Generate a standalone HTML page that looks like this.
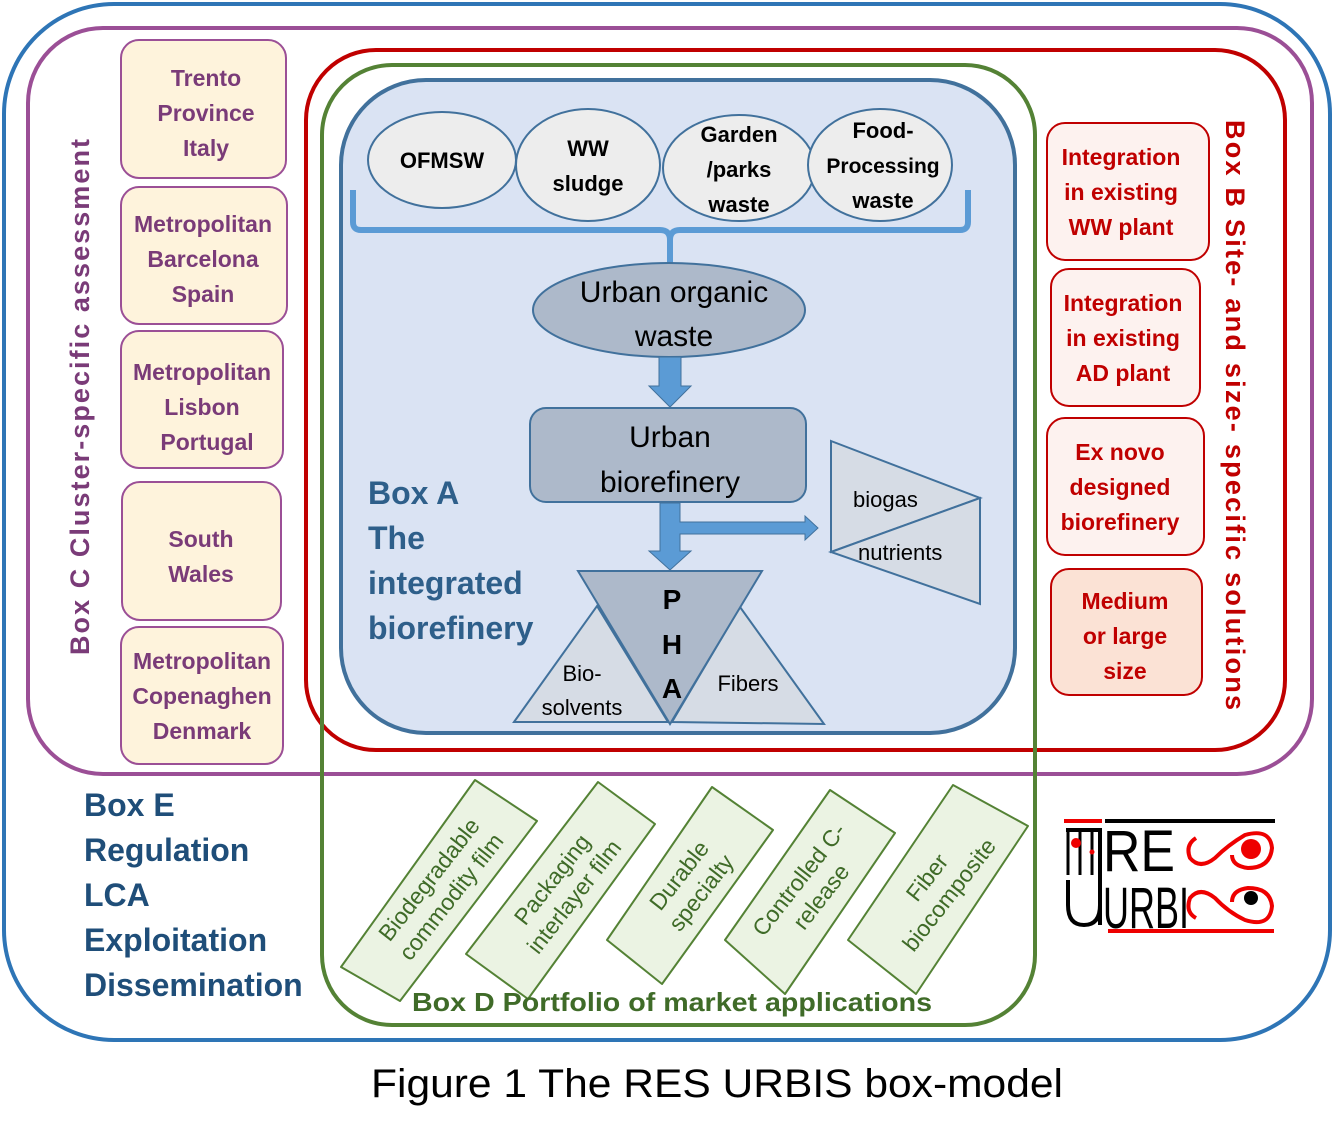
<!DOCTYPE html>
<html><head><meta charset="utf-8"><style>
html,body{margin:0;padding:0;background:#fff;}
svg{display:block;font-family:"Liberation Sans",sans-serif;}
</style></head><body>
<svg width="1334" height="1142" viewBox="0 0 1334 1142">
<rect x="4" y="4" width="1326" height="1036" rx="110" fill="#fff" stroke="#2e75b6" stroke-width="4"/>
<rect x="28" y="28" width="1284" height="746" rx="75" fill="none" stroke="#9b4f96" stroke-width="4"/>
<rect x="306" y="50" width="979" height="700" rx="70" fill="none" stroke="#c00000" stroke-width="4"/>
<rect x="322" y="65" width="713" height="960" rx="70" fill="none" stroke="#548235" stroke-width="4"/>
<rect x="341" y="80" width="674" height="653" rx="85" fill="#dae3f3" stroke="#41719c" stroke-width="4"/>

<g fill="#ededed" stroke="#41719c" stroke-width="2" >
<ellipse cx="442" cy="160" rx="74" ry="48"/>
<ellipse cx="588" cy="165" rx="72" ry="56"/>
<ellipse cx="739" cy="168" rx="76" ry="53"/>
<ellipse cx="880" cy="165" rx="72" ry="56"/>
</g>
<g font-weight="bold" font-size="22" text-anchor="middle" fill="#000">
<text x="442" y="168">OFMSW</text>
<text x="588" y="156">WW</text><text x="588" y="191">sludge</text>
<text x="739" y="142">Garden</text><text x="739" y="177">/parks</text><text x="739" y="212">waste</text>
<text x="883" y="138">Food-</text><text x="883" y="173" font-size="21">Processing</text><text x="883" y="208">waste</text>
</g>
<path d="M353 190 V222 Q353 230 361 230 H660 Q670 230 670 240 V265 M670 240 Q670 230 680 230 H960 Q968 230 968 222 V190" fill="none" stroke="#5b9bd5" stroke-width="6"/>
<ellipse cx="669" cy="310" rx="136" ry="47" fill="#adb9ca" stroke="#41719c" stroke-width="2"/>
<text x="674" y="302" font-size="30" text-anchor="middle">Urban organic</text>
<text x="674" y="346" font-size="30" text-anchor="middle">waste</text>
<path d="M659 357 H681 V386 H691 L670 407 L649 386 H659 Z" fill="#5b9bd5" stroke="#41719c" stroke-width="1"/>
<rect x="530" y="408" width="276" height="94" rx="16" fill="#adb9ca" stroke="#41719c" stroke-width="2"/>
<text x="670" y="447" font-size="30" text-anchor="middle">Urban</text>
<text x="670" y="492" font-size="30" text-anchor="middle">biorefinery</text>
<path d="M660 503 H680 V522 H805 V516 L818 528 L805 540 V534 H680 V551 H691 L670 570 L649 551 H660 Z" fill="#5b9bd5" stroke="#41719c" stroke-width="1"/>
<polygon points="831,441 980,498 831,552" fill="#d6dce5" stroke="#41719c" stroke-width="2"/>
<polygon points="831,552 980,498 980,604" fill="#d6dce5" stroke="#41719c" stroke-width="2"/>
<text x="853" y="507" font-size="22">biogas</text>
<text x="858" y="560" font-size="22">nutrients</text>
<polygon points="514,722 597,606 668,722" fill="#d6dce5" stroke="#41719c" stroke-width="2"/>
<polygon points="672,722 740,607 824,724" fill="#d6dce5" stroke="#41719c" stroke-width="2"/>
<polygon points="578,571 762,571 670,724" fill="#adb9ca" stroke="#41719c" stroke-width="2"/>
<g font-weight="bold" font-size="28" text-anchor="middle">
<text x="672" y="609">P</text><text x="672" y="654">H</text><text x="672" y="698">A</text></g>
<text x="582" y="681" font-size="22" text-anchor="middle">Bio-</text>
<text x="582" y="715" font-size="22" text-anchor="middle">solvents</text>
<text x="748" y="691" font-size="22" text-anchor="middle">Fibers</text>
<g font-weight="bold" font-size="32" fill="#2e5f8a">
<text x="368" y="504">Box A</text><text x="368" y="549">The</text>
<text x="368" y="594">integrated</text><text x="368" y="639">biorefinery</text></g>

<g fill="#fef3dc" stroke="#9b4f96" stroke-width="2">
<rect x="121" y="40" width="165" height="138" rx="18"/>
<rect x="121" y="187" width="166" height="137" rx="18"/>
<rect x="121" y="331" width="162" height="137" rx="18"/>
<rect x="122" y="482" width="159" height="138" rx="18"/>
<rect x="121" y="627" width="162" height="137" rx="18"/>
</g>
<g font-weight="bold" font-size="23" fill="#7a3b78" text-anchor="middle">
<text x="206" y="86">Trento</text><text x="206" y="121">Province</text><text x="206" y="156">Italy</text>
<text x="203" y="232">Metropolitan</text><text x="203" y="267">Barcelona</text><text x="203" y="302">Spain</text>
<text x="202" y="380">Metropolitan</text><text x="202" y="415">Lisbon</text><text x="207" y="450">Portugal</text>
<text x="201" y="547">South</text><text x="201" y="582">Wales</text>
<text x="202" y="669">Metropolitan</text><text x="202" y="704">Copenaghen</text><text x="202" y="739">Denmark</text>
</g>
<text transform="translate(89,397) rotate(-90)" font-weight="bold" font-size="27" fill="#7a3b78" text-anchor="middle" textLength="516">Box C Cluster-specific assessment</text>

<g stroke="#c00000" stroke-width="2">
<rect x="1047" y="123" width="162" height="137" rx="18" fill="#fdf2ef"/>
<rect x="1051" y="269" width="149" height="137" rx="18" fill="#fdf2ef"/>
<rect x="1047" y="418" width="157" height="137" rx="18" fill="#fdf2ef"/>
<rect x="1051" y="569" width="151" height="126" rx="18" fill="#fbe2d5"/>
</g>
<g font-weight="bold" font-size="23" fill="#c00000" text-anchor="middle">
<text x="1121" y="165">Integration</text><text x="1121" y="200">in existing</text><text x="1121" y="235">WW plant</text>
<text x="1123" y="311">Integration</text><text x="1123" y="346">in existing</text><text x="1123" y="381">AD plant</text>
<text x="1120" y="460">Ex novo</text><text x="1120" y="495">designed</text><text x="1120" y="530">biorefinery</text>
<text x="1125" y="609">Medium</text><text x="1125" y="644">or large</text><text x="1125" y="679">size</text>
</g>
<text transform="translate(1226,415) rotate(90)" font-weight="bold" font-size="27" fill="#c00000" text-anchor="middle" textLength="590">Box B Site- and size- specific  solutions</text>

<g font-weight="bold" font-size="32" fill="#1f4e79">
<text x="84" y="816">Box E</text><text x="84" y="861">Regulation</text><text x="84" y="906">LCA</text>
<text x="84" y="951">Exploitation</text><text x="84" y="996">Dissemination</text></g>

<!-- Box D -->
<g fill="#ebf3e3" stroke="#548235" stroke-width="2" stroke-linejoin="round">
<polygon points="475,780 537,821 400,1001 341,967"/>
<polygon points="598,782 655,824 528,999 466,954"/>
<polygon points="712,787 773,830 662,984 607,940"/>
<polygon points="830,790 895,833 785,994 725,940"/>
<polygon points="953,785 1028,826 916,994 848,940"/>
</g>
<g font-size="23" fill="#3f6b28" text-anchor="middle">
<g transform="translate(440,888) rotate(-52)"><text y="-6">Biodegradable</text><text y="22">commodity film</text></g>
<g transform="translate(563,888) rotate(-52)"><text y="-6">Packaging</text><text y="22">interlayer film</text></g>
<g transform="translate(690,884) rotate(-52)"><text y="-6">Durable</text><text y="22">specialty</text></g>
<g transform="translate(810,888) rotate(-52)"><text y="-6">Controlled C-</text><text y="22">release</text></g>
<g transform="translate(938,886) rotate(-52)"><text y="-6">Fiber</text><text y="22">biocomposite</text></g>
</g>
<text x="672" y="1011" font-weight="bold" font-size="26" fill="#3f6b28" text-anchor="middle" textLength="520" lengthAdjust="spacingAndGlyphs">Box D Portfolio of market applications</text>

<!-- logo -->
<g>
<rect x="1064" y="819" width="38" height="4" fill="#e00"/>
<rect x="1105" y="819" width="170" height="4" fill="#000"/>
<path d="M1066 830 H1100 V925" fill="none" stroke="#000" stroke-width="4"/>
<path d="M1068 832 V875 M1080 832 V875 M1092 832 V875" stroke="#000" stroke-width="3"/>
<circle cx="1076" cy="843" r="5" fill="#e00"/><circle cx="1092" cy="852" r="2.5" fill="#e00"/>
<path d="M1068 880 V905 Q1068 925 1084 925 Q1100 925 1100 905 V880" fill="none" stroke="#000" stroke-width="4"/>
<text x="1103" y="871" font-size="58" fill="#000" textLength="72" lengthAdjust="spacingAndGlyphs">RE</text>
<text x="1103" y="928" font-size="58" fill="#000" textLength="86" lengthAdjust="spacingAndGlyphs">URBI</text>
<path d="M1196 838 Q1185 845 1190 858 Q1200 870 1215 858 Q1228 845 1245 835 Q1270 828 1272 848 Q1270 868 1248 868 Q1232 866 1232 855" fill="none" stroke="#e00" stroke-width="4"/>
<circle cx="1251" cy="849" r="10" fill="#e00"/>
<path d="M1196 918 Q1185 912 1190 898 Q1200 886 1215 898 Q1228 912 1245 920 Q1270 928 1272 906 Q1270 888 1248 888 Q1232 890 1232 902" fill="none" stroke="#e00" stroke-width="4"/>
<circle cx="1251" cy="898" r="7" fill="#000"/>
<rect x="1108" y="929" width="166" height="4" fill="#e00"/>
</g>

<text x="717" y="1097" font-size="40" text-anchor="middle" fill="#000" textLength="692" lengthAdjust="spacingAndGlyphs">Figure 1 The RES URBIS box-model</text>
</svg>
</body></html>
